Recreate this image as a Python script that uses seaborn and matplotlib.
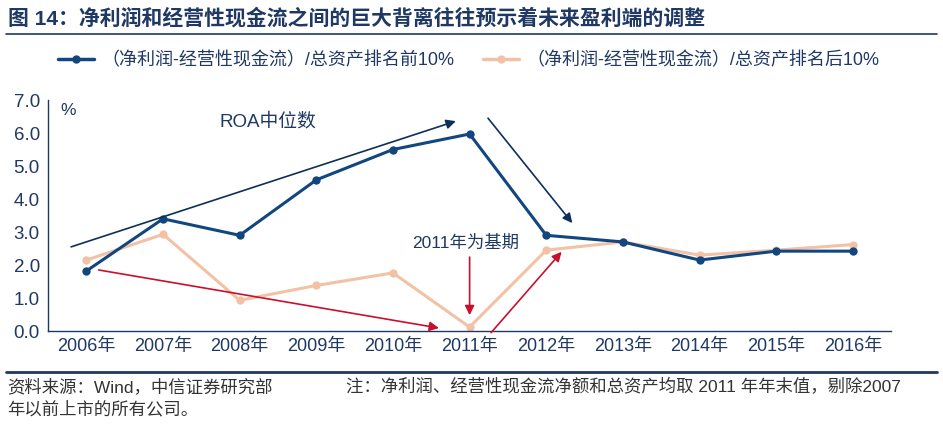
import numpy as np
import pandas as pd
import matplotlib
matplotlib.use("Agg")
import matplotlib.pyplot as plt
from matplotlib.lines import Line2D
import seaborn as sns

# 数据
years = ["2006年", "2007年", "2008年", "2009年", "2010年", "2011年",
         "2012年", "2013年", "2014年", "2015年", "2016年"]
top10 = [1.82, 3.40, 2.90, 4.58, 5.50, 5.97, 2.90, 2.70, 2.15, 2.42, 2.42]
bottom10 = [2.15, 2.93, 0.93, 1.38, 1.76, 0.12, 2.45, 2.70, 2.30, 2.45, 2.62]
label_top = "（净利润-经营性现金流）/总资产排名前10%"
label_bottom = "（净利润-经营性现金流）/总资产排名后10%"

navy = "#12467F"
peach = "#F2C2A6"
red = "#C8102E"
text_c = "#1F3864"

sns.set_style("white")
plt.rcParams['font.family'] = ['Liberation Sans', 'Noto Sans CJK SC', 'DejaVu Sans']

df = pd.DataFrame({"年份": years, label_top: top10, label_bottom: bottom10})
df_long = df.melt(id_vars="年份", var_name="系列", value_name="值")

fig = plt.figure(figsize=(9.43, 4.3), dpi=100)
ax = fig.add_axes([0.051, 0.2302, 0.894, 0.5372])

sns.lineplot(data=df_long, x="年份", y="值", hue="系列", sort=False,
             palette={label_top: navy, label_bottom: peach},
             hue_order=[label_bottom, label_top],
             marker="o", markersize=6, markeredgewidth=0,
             linewidth=2.2, ax=ax, legend=False)

ax.set_xlim(-0.5, 10.5)
ax.set_ylim(0, 7.0)
ax.set_yticks(np.arange(0, 7.01, 1.0))
ax.set_yticklabels([f"{v:.1f}" for v in np.arange(0, 7.01, 1.0)],
                   fontsize=13.5, color=text_c)
ax.set_xticks(range(len(years)))
ax.set_xticklabels(years, fontsize=13, color=text_c)
ax.tick_params(axis="x", length=0, pad=5)
ax.set_xticks(np.arange(-0.5, 10.6, 1.0), minor=True)
ax.tick_params(axis="x", which="minor", direction="in", length=5, color=text_c)
ax.tick_params(axis="y", direction="out", length=4, color=text_c, pad=2)
ax.set_xlabel("")
ax.set_ylabel("")
for s in ["top", "right"]:
    ax.spines[s].set_visible(False)
for s in ["left", "bottom"]:
    ax.spines[s].set_color(text_c)
    ax.spines[s].set_linewidth(1.0)
ax.text(0.015, 0.985, "%", transform=ax.transAxes, fontsize=12.5,
        color=text_c, va="top")

# 注释箭头
def arrow(x0, y0, x1, y1, color, lw=1.2):
    ax.annotate("", xy=(x1, y1), xytext=(x0, y0),
                arrowprops=dict(arrowstyle="-|>", color=color, lw=lw,
                                mutation_scale=14, shrinkA=0, shrinkB=0),
                annotation_clip=False)

arrow(-0.2, 2.55, 4.82, 6.36, "#0E2F5A")
arrow(5.24, 6.45, 6.34, 3.27, "#0E2F5A")
arrow(0.16, 1.85, 4.6, 0.09, red)
arrow(5.28, -0.05, 6.2, 2.4, red)
arrow(5.0, 2.24, 5.0, 0.48, red)

ax.text(2.37, 6.36, "ROA中位数", fontsize=13.5, color=text_c,
        ha="center", va="center")
ax.text(4.95, 2.67, "2011年为基期", fontsize=12.5, color=text_c,
        ha="center", va="center")

# 标题与图例
fig.text(0.008, 0.958, "图 14：净利润和经营性现金流之间的巨大背离往往预示着未来盈利端的调整",
         fontsize=15, fontweight="bold", color=text_c, va="center")
fig.add_artist(Line2D([0.006, 0.994], [0.921, 0.921], color=text_c, lw=1.2))

handles = [Line2D([], [], color=navy, lw=2.5, marker="o", markersize=5),
           Line2D([], [], color=peach, lw=2.5, marker="o", markersize=5)]
fig.legend(handles, [label_top, label_bottom], loc="center",
           bbox_to_anchor=(0.497, 0.858), ncol=2, frameon=False,
           fontsize=13, labelcolor=text_c, columnspacing=1.6,
           handlelength=2.0, handletextpad=0.4)

# 底部说明
fig.add_artist(Line2D([0.006, 0.994], [0.135, 0.135], color=text_c, lw=2))
fig.text(0.008, 0.1, "资料来源：Wind，中信证券研究部", fontsize=12.5,
         color="#333333", va="center")
fig.text(0.367, 0.1, "注：净利润、经营性现金流净额和总资产均取 2011 年年末值，剔除2007",
         fontsize=12.5, color="#333333", va="center")
fig.text(0.008, 0.048, "年以前上市的所有公司。", fontsize=12.5,
         color="#333333", va="center")

fig.savefig("out.png", dpi=100)
